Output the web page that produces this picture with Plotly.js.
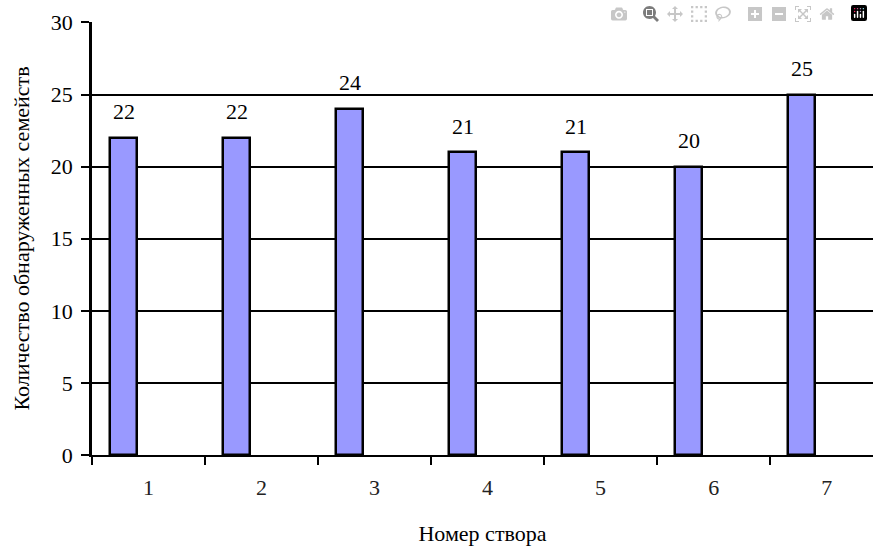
<!DOCTYPE html>
<html>
<head>
<meta charset="utf-8">
<script src="https://cdn.plot.ly/plotly-3.0.1.min.js"></script>
<style>
html,body{margin:0;padding:0;background:#fff;}
#chart{width:873px;height:548px;}
</style>
</head>
<body>
<div id="chart"></div>
<script>
const categories = ["1", "2", "3", "4", "5", "6", "7"];
const values = [22, 22, 24, 21, 21, 20, 25];
const yTicks = [0, 5, 10, 15, 20, 25, 30];
const xTitle = "Номер створа";
const yTitle = "Количество обнаруженных семейств";

const FONT = "Liberation Serif";

function draw() {
  const trace = {
    type: "bar",
    x: categories,
    y: values,
    offset: -0.34,
    width: 0.24,
    marker: { color: "#9999ff", line: { color: "#000", width: 2.5 } },
    hoverinfo: "x+y"
  };

  const annotations = categories.map((c, i) => ({
    x: i, y: values[i], xref: "x", yref: "y",
    text: String(values[i]), showarrow: false,
    xshift: -25, yshift: 26,
    font: { family: FONT, size: 22, color: "#000" }
  }));

  const layout = {
    width: 873, height: 548,
    margin: { l: 92, r: 0, t: 22, b: 93 },
    paper_bgcolor: "#fff", plot_bgcolor: "#fff",
    showlegend: false,
    font: { family: FONT, size: 22, color: "#000" },
    xaxis: {
      type: "category",
      range: [-0.5, 6.41],
      tickson: "boundaries",
      ticks: "outside", ticklen: 8, tickwidth: 2, tickcolor: "#000",
      ticklabelstandoff: 12,
      showgrid: false, zeroline: false,
      showline: true, linecolor: "#000", linewidth: 2,
      tickfont: { family: FONT, size: 22, color: "#222" },
      title: { text: xTitle, standoff: 26, font: { family: FONT, size: 22, color: "#000" } }
    },
    yaxis: {
      range: [0, 30.03],
      tickvals: yTicks,
      ticks: "outside", ticklen: 8, tickwidth: 2, tickcolor: "#000",
      ticklabelstandoff: 4,
      showgrid: true, gridcolor: "#000", gridwidth: 2,
      zeroline: false,
      showline: true, linecolor: "#000", linewidth: 2.5,
      tickfont: { family: FONT, size: 22, color: "#000" },
      title: { text: yTitle, standoff: 16, font: { family: FONT, size: 22, color: "#000" } }
    },
    bargap: 0,
    annotations: annotations
  };

  Plotly.newPlot("chart", [trace], layout);
}

let drawn = false;
function once() { if (!drawn) { drawn = true; draw(); } }
if (document.fonts && document.fonts.load) {
  document.fonts.load('22px "Liberation Serif"', "Номер 0123456789").then(once, once);
  setTimeout(once, 1500);
} else {
  once();
}
</script>
</body>
</html>
